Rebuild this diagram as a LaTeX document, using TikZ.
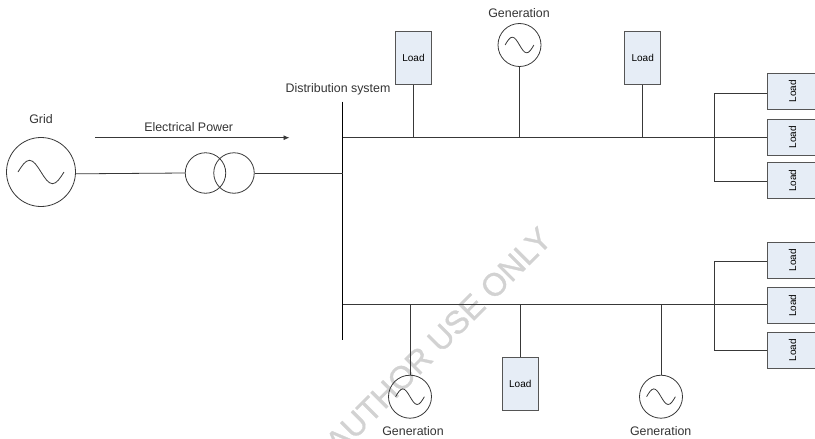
\documentclass[tikz,border=0pt]{standalone}
\usepackage{fontspec}
\setmainfont{Liberation Sans}
\newfontfamily\markfont[FakeBold=1]{Liberation Sans}
\usetikzlibrary{arrows.meta}
\definecolor{boxfill}{HTML}{E6EDF6}
\definecolor{wirecol}{HTML}{383838}
\definecolor{boxline}{HTML}{555555}
\definecolor{markcol}{HTML}{D2D2D2}
\tikzset{
    wire/.style={line width=0.8pt,draw=wirecol},
    busbar/.style={line width=1.5pt,draw=black},
    source/.style={circle,draw=wirecol,line width=0.8pt,inner sep=0pt},
    loadbox/.style={rectangle,draw=boxline,fill=boxfill,line width=1pt,inner sep=0pt,
        minimum width=36.5pt,minimum height=53pt,font=\fontsize{10}{12}\selectfont},
    sidebox/.style={loadbox,minimum width=48pt,minimum height=36pt},
    label/.style={inner sep=0pt,font=\fontsize{12.4}{14}\selectfont,text=black!80}
}

\begin{document}
\begin{tikzpicture}[x=1pt,y=-1pt]
    \useasboundingbox (0,0) rectangle (815,439);
    \clip (0,0) rectangle (815,439);

    % watermark goes under everything else
    \node[rotate=45,text=markcol,inner sep=0pt,font=\markfont\fontsize{32}{36}\selectfont] (mark) at (438.5,340.5) {AUTHOR USE ONLY};

    % sources
    \node[source,minimum size=69pt] (grid) at (41,172) {};
    \node[source,minimum size=40.5pt] (trafoL) at (205.5,173) {};
    \node[source,minimum size=40.5pt] (trafoR) at (234,173) {};
    \node[source,minimum size=43pt] (genT) at (519.5,45) {};
    \node[source,minimum size=43pt] (genL) at (410,396.7) {};
    \node[source,minimum size=43pt] (genR) at (661,396.7) {};

    % the little sine inside each source
    \foreach \name/\w/\h in {grid/11.5/11.7,genT/7.2/7.8,genL/7.2/7.8,genR/7.2/7.8}
        \draw[wire] (\name.center) ++(-2*\w,0) sin ++(\w,-\h) cos ++(\w,\h) sin ++(\w,\h) cos ++(\w,-\h);

    % loads
    \node[loadbox] (loadA) at (413.5,57.7) {Load};
    \node[loadbox] (loadB) at (642.7,57.7) {Load};
    \node[loadbox] (loadC) at (520.3,384) {Load};
    \foreach \name/\y in {sideA/91.3,sideB/137,sideC/180.8,sideD/260.3,sideE/305.8,sideF/350}
        \node[sidebox] (\name) at (791,\y) {\hspace*{3pt}\rotatebox{90}{Load}};

    % bus and feeders
    \coordinate (busN) at (342.7,101.7);
    \coordinate (busS) at (342.7,340);
    \coordinate (busIn) at (342.7,173);
    \coordinate (feedT) at (342.7,137.5);
    \coordinate (feedB) at (342.7,304.3);
    \coordinate (tieT) at (714.3,137.5);
    \coordinate (tieB) at (714.3,304.3);
    \coordinate (tieA) at (714.3,93.3);
    \coordinate (tieC) at (714.3,181.7);
    \coordinate (tieD) at (714.3,261.7);
    \coordinate (tieF) at (714.3,350.3);

    \draw[busbar] (busN) -- (busS);
    \draw[wire] (feedT) -- (tieT);
    \draw[wire] (feedB) -- (tieB);
    \draw[wire] (tieA) -- (tieC);
    \draw[wire] (tieD) -- (tieF);
    \foreach \tie/\name in {tieA/sideA,tieT/sideB,tieC/sideC,tieD/sideD,tieB/sideE,tieF/sideF}
        \draw[wire] (\tie) -- (\tie -| \name.west);

    \draw[wire] (grid.-3) -- (trafoL.west);
    \draw[wire] (trafoR.east) -- (busIn);
    \foreach \name in {loadA,loadB}
        \draw[wire] (\name.south) -- (\name.south |- feedT);
    \draw[wire] (genT.south) -- (genT.south |- feedT);
    \draw[wire] (loadC.north) -- (loadC.north |- feedB);
    \foreach \name in {genL,genR}
        \draw[wire] (\name.north) -- (\name.north |- feedB);

    % power arrow
    \coordinate (powerS) at (95,137.7);
    \coordinate (powerE) at (289.5,137.7);
    \draw[wire,-{Latex[length=6pt,width=5pt]}] (powerS) -- (powerE);

    % labels
    \node[label] (gridlabel) at (41,119) {Grid};
    \node[label] (powerlabel) at (188.7,127.5) {Electrical Power};
    \node[label] (distlabel) at (338,89.3) {Distribution system};
    \node[label] (genTlabel) at (519,13) {Generation};
    \node[label] (genLlabel) at (413,431) {Generation};
    \node[label] (genRlabel) at (660.7,431) {Generation};
\end{tikzpicture}
\end{document}
